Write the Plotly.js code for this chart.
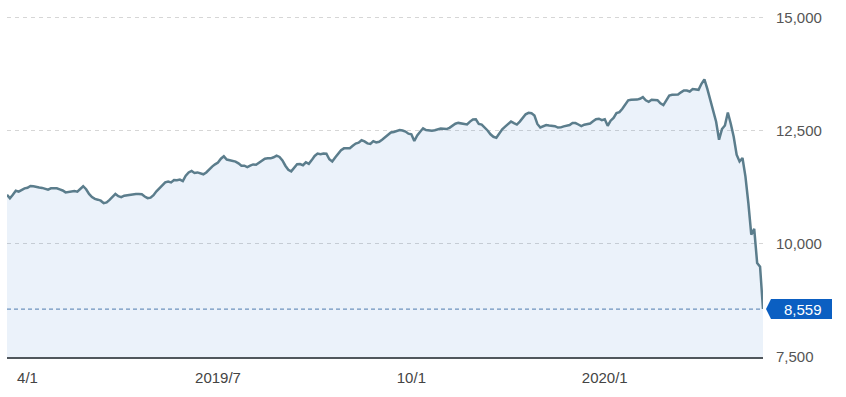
<!DOCTYPE html>
<html>
<head>
<meta charset="utf-8">
<script src="https://cdn.plot.ly/plotly-3.0.1.min.js"></script>
<style>html,body{margin:0;padding:0;background:#fff;}#chart{width:846px;height:397px;}</style>
</head>
<body>
<div id="chart"></div>
<script>
// ---- data ----
const startDate = '2019-03-21';   // first trading day shown
const values = [
11083,11006,11083,11171,11149,11193,11222,11237,11275,11270,
11251,11244,11233,11220,11193,11224,11231,11224,11200,11176,
11134,11143,11165,11163,11149,11215,11270,11204,11099,11032,
10990,10973,10951,10896,10913,10968,11039,11099,11050,11028,
11061,11074,11088,11099,11099,11099,11092,11044,11006,11017,
11072,11158,11231,11304,11354,11374,11354,11407,11403,11416,
11385,11502,11573,11608,11564,11575,11555,11533,11573,11645,
11703,11753,11793,11877,11930,11859,11848,11839,11813,11775,
11723,11723,11692,11727,11751,11745,11793,11842,11879,11888,
11886,11910,11945,11917,11839,11723,11634,11599,11672,11756,
11758,11734,11799,11764,11846,11939,11992,11979,11994,11987,
11866,11815,11906,11990,12064,12106,12101,12110,12164,12212,
12232,12285,12260,12216,12203,12265,12236,12252,12296,12349,
12400,12455,12466,12483,12510,12499,12477,12430,12417,12268,
12393,12474,12549,12512,12499,12497,12505,12530,12543,12538,
12532,12560,12600,12651,12668,12651,12638,12633,12697,12744,
12748,12647,12632,12576,12501,12417,12362,12342,12441,12527,
12587,12635,12699,12662,12631,12697,12770,12858,12891,12880,
12832,12644,12567,12598,12620,12609,12605,12596,12565,12569,
12591,12600,12620,12664,12664,12633,12596,12629,12644,12655,
12704,12748,12761,12728,12748,12605,12717,12779,12885,12907,
12979,13061,13165,13178,13178,13182,13200,13237,13167,13134,
13178,13178,13169,13101,13061,13167,13273,13288,13288,13297,
13343,13383,13383,13361,13414,13407,13398,13531,13630,13420,
13189,12979,12693,12296,12532,12611,12898,12649,12360,11965,
11817,11892,11487,10900,10201,10327,9577,9495,8559
];
const tickDates = ['2019-04-01','2019-07-01','2019-10-01','2020-01-01'];
const tickLabels = ['4/1','2019/7','10/1','2020/1'];
const yTicks = [7500,10000,12500,15000];
const yTickLabels = ['7,500','10,000','12,500','15,000'];
const yRange = [7500,15050];

// trading days (weekdays) starting at startDate
function weekdays(start, n){
  const out=[]; const d=new Date(start+'T00:00:00Z');
  while(out.length<n){
    const w=d.getUTCDay();
    if(w!==0 && w!==6) out.push(d.toISOString().slice(0,10));
    d.setUTCDate(d.getUTCDate()+1);
  }
  return out;
}
const dates = weekdays(startDate, values.length);
const lastVal = values[values.length-1];
const lastLabel = lastVal.toLocaleString('en-US');

const FONT = 'Arial, "Liberation Sans", sans-serif';

const trace = {
  x: dates, y: values, type: 'scatter', mode: 'lines',
  line: {color: '#5b7d8c', width: 2.5},
  fill: 'tozeroy', fillcolor: 'rgba(20,100,200,0.085)',
  hoverinfo: 'skip'
};

const layout = {
  width: 846, height: 397,
  margin: {l: 7, r: 83, t: 15, b: 40, pad: 0},
  paper_bgcolor: '#ffffff', plot_bgcolor: '#ffffff',
  showlegend: false,
  font: {family: FONT, size: 15, color: '#444'},
  xaxis: {
    type: 'date',
    range: [dates[0], dates[dates.length-1]],
    rangebreaks: [{bounds: ['sat','mon']}],
    tickvals: tickDates, ticktext: tickLabels,
    showgrid: false, zeroline: false,
    showline: true, linecolor: '#50575c', linewidth: 1.5,
    ticks: '', ticklabelstandoff: 6,
    tickfont: {family: FONT, size: 15, color: '#444'},
    fixedrange: true
  },
  yaxis: {
    range: yRange, side: 'right',
    tickvals: yTicks, ticktext: yTickLabels,
    showgrid: true, gridcolor: '#d6d6d6', griddash: '4px,4px', gridwidth: 1,
    zeroline: false, showline: false,
    ticks: '', ticklabelstandoff: 12,
    tickfont: {family: FONT, size: 15, color: '#555'},
    fixedrange: true
  },
  shapes: [
    {type: 'line', xref: 'paper', x0: 0, x1: 1, yref: 'y', y0: lastVal, y1: lastVal,
     line: {color: '#6f93bd', width: 1.3, dash: '4px,3px'}, layer: 'above'},
    {type: 'path', xref: 'paper', yref: 'y', xsizemode: 'pixel', ysizemode: 'pixel',
     xanchor: 1, yanchor: lastVal,
     path: 'M3,0 L8,-10 L69,-10 L69,10 L8,10 Z',
     fillcolor: '#0b5fc2', line: {width: 0}, layer: 'above'}
  ],
  annotations: [
    {xref: 'paper', x: 1, yref: 'y', y: lastVal, text: lastLabel, showarrow: false,
     xanchor: 'center', yanchor: 'middle', xshift: 40,
     font: {family: FONT, size: 15, color: '#ffffff'}}
  ]
};

Plotly.newPlot('chart', [trace], layout, {staticPlot: true, displayModeBar: false});
</script>
</body>
</html>
